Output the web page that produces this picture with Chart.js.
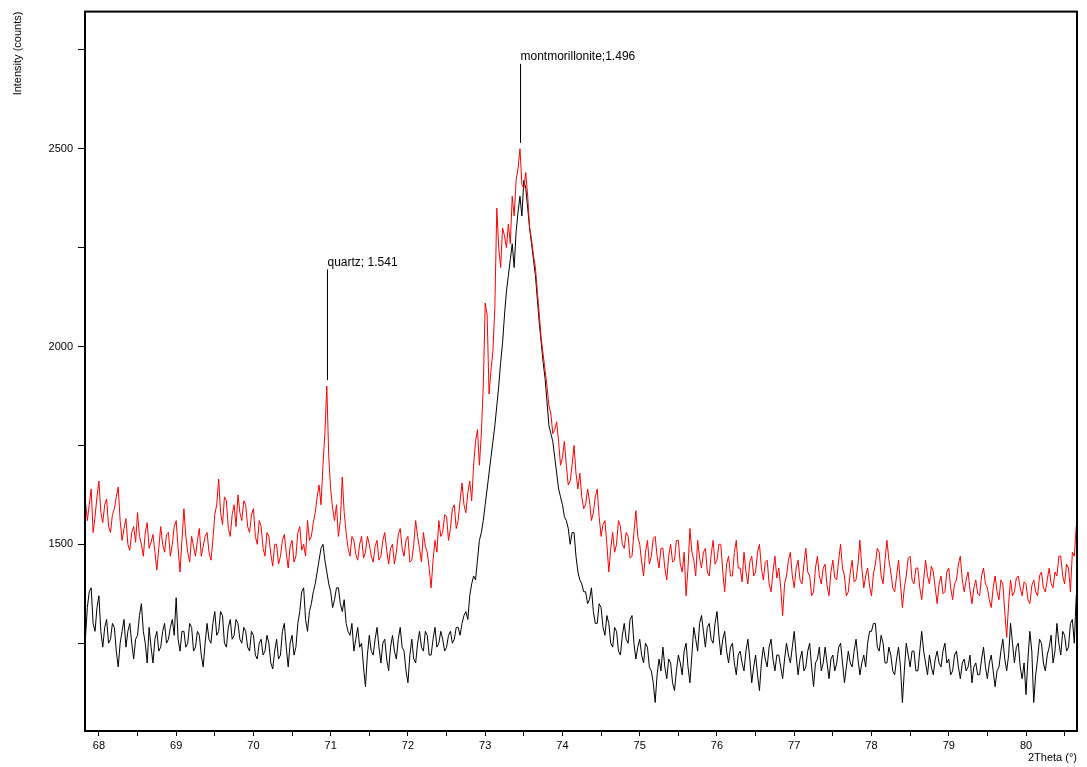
<!DOCTYPE html>
<html>
<head>
<meta charset="utf-8">
<title>XRD pattern</title>
<script src="https://cdn.jsdelivr.net/npm/chart.js@4.4.1/dist/chart.umd.min.js"></script>
<style>
  html, body { margin: 0; padding: 0; background: #fff; }
  #xrdChart { display: block; }
</style>
</head>
<body>
<canvas id="xrdChart" width="1087" height="767"></canvas>
<script>
// scan grid of the diffractometer (2theta, degrees)
const scanStart = 67.80;
const scanStep = 0.025;

// upper trace (red), counts, 20 points (0.5 deg) per row
const redCounts = [
  1700,1610,1560,1600,1640,1530,1570,1620,1660,1580,1555,1600,1615,1545,1530,1575,1590,1620,1645,1560,
  1510,1540,1565,1500,1485,1530,1545,1505,1580,1520,1500,1470,1530,1555,1490,1505,1525,1480,1435,1490,
  1545,1500,1480,1525,1530,1470,1500,1545,1560,1490,1430,1510,1590,1520,1480,1455,1520,1495,1470,1510,
  1540,1470,1495,1520,1530,1480,1460,1510,1575,1600,1665,1580,1550,1620,1610,1540,1520,1575,1600,1545,
  1625,1580,1560,1610,1600,1545,1530,1575,1590,1520,1500,1560,1545,1490,1470,1530,1520,1475,1445,1500,
  1500,1450,1470,1510,1525,1480,1440,1495,1510,1455,1470,1530,1545,1485,1500,1470,1560,1510,1520,1555,
  1580,1620,1650,1600,1700,1780,1900,1720,1640,1590,1560,1600,1520,1560,1670,1580,1530,1490,1470,1520,
  1510,1475,1460,1500,1520,1465,1480,1520,1500,1470,1455,1495,1510,1460,1470,1510,1530,1485,1450,1490,
  1500,1450,1480,1525,1540,1490,1470,1510,1520,1455,1460,1500,1560,1520,1490,1455,1530,1495,1480,1440,
  1390,1460,1510,1480,1560,1520,1530,1575,1570,1510,1540,1590,1600,1540,1560,1610,1655,1600,1580,1630,
  1660,1610,1700,1760,1790,1700,1780,1900,2110,2080,1880,1940,1990,2100,2350,2250,2200,2300,2280,2250,
  2310,2260,2380,2330,2420,2450,2500,2410,2400,2440,2380,2300,2270,2230,2200,2140,2080,2020,1980,1940,
  1900,1850,1830,1780,1790,1810,1760,1700,1720,1760,1700,1650,1660,1700,1750,1680,1640,1680,1620,1590,
  1600,1640,1610,1560,1580,1620,1640,1570,1520,1550,1560,1500,1430,1490,1530,1480,1500,1560,1545,1500,
  1490,1530,1520,1465,1470,1530,1585,1520,1500,1455,1420,1480,1510,1450,1470,1515,1520,1470,1440,1490,
  1490,1440,1410,1470,1500,1455,1460,1510,1510,1450,1430,1480,1370,1440,1540,1480,1460,1420,1510,1465,
  1440,1480,1490,1430,1420,1475,1510,1450,1460,1500,1500,1430,1380,1450,1470,1420,1420,1480,1510,1440,
  1440,1405,1480,1430,1400,1455,1470,1420,1430,1480,1500,1440,1410,1455,1460,1400,1380,1430,1470,1415,
  1440,1390,1320,1400,1420,1460,1480,1420,1390,1440,1460,1410,1400,1450,1490,1430,1420,1370,1380,1440,
  1470,1420,1400,1440,1450,1395,1370,1430,1460,1415,1410,1460,1500,1440,1420,1370,1380,1430,1460,1405,
  1410,1450,1510,1440,1390,1420,1440,1395,1370,1425,1450,1490,1480,1420,1400,1460,1510,1460,1430,1390,
  1380,1420,1460,1400,1340,1390,1420,1465,1470,1410,1400,1440,1440,1390,1360,1410,1460,1420,1400,1445,
  1430,1390,1350,1400,1420,1375,1380,1430,1440,1390,1360,1400,1410,1450,1470,1410,1380,1410,1430,1385,
  1350,1390,1410,1375,1370,1420,1440,1400,1390,1360,1340,1390,1420,1380,1360,1410,1400,1330,1265,1350,
  1410,1370,1380,1415,1420,1390,1370,1405,1400,1360,1350,1395,1410,1380,1370,1420,1430,1390,1380,1410,
  1440,1400,1390,1430,1420,1470,1470,1420,1400,1450,1440,1380,1480,1470,1545,1560
];

// lower trace (black)
const blackCounts = [
  1300,1260,1340,1380,1390,1300,1280,1340,1370,1280,1240,1290,1310,1250,1260,1300,1290,1230,1190,1250,
  1280,1310,1240,1280,1300,1250,1210,1260,1270,1320,1350,1280,1250,1200,1290,1240,1200,1260,1280,1230,
  1240,1280,1300,1250,1260,1290,1310,1270,1365,1260,1230,1280,1280,1240,1250,1300,1290,1230,1240,1280,
  1270,1220,1190,1250,1300,1260,1250,1300,1330,1270,1280,1330,1320,1250,1240,1290,1310,1260,1270,1310,
  1300,1260,1250,1290,1280,1240,1230,1280,1270,1220,1210,1250,1260,1220,1230,1270,1250,1200,1185,1230,
  1260,1210,1220,1280,1300,1240,1190,1250,1270,1220,1240,1300,1330,1380,1390,1310,1280,1330,1350,1380,
  1400,1430,1460,1490,1500,1460,1430,1400,1380,1340,1360,1390,1390,1350,1330,1360,1300,1280,1270,1300,
  1230,1260,1290,1240,1250,1190,1140,1220,1270,1230,1220,1260,1290,1240,1200,1250,1260,1210,1180,1240,
  1270,1230,1210,1260,1290,1240,1230,1180,1150,1220,1260,1210,1200,1250,1280,1240,1230,1280,1270,1220,
  1220,1260,1290,1240,1250,1280,1260,1230,1240,1270,1280,1250,1260,1290,1290,1270,1300,1320,1330,1310,
  1370,1400,1420,1410,1460,1510,1530,1560,1600,1640,1680,1720,1760,1800,1850,1900,1960,2010,2080,2140,
  2180,2220,2260,2200,2290,2340,2380,2330,2420,2400,2350,2300,2260,2220,2180,2120,2060,2010,1960,1920,
  1860,1800,1780,1760,1720,1680,1640,1620,1600,1570,1560,1540,1500,1530,1530,1470,1430,1410,1400,1380,
  1380,1350,1360,1390,1330,1300,1300,1350,1340,1290,1270,1320,1300,1250,1240,1290,1280,1230,1220,1270,
  1300,1260,1250,1310,1320,1250,1210,1240,1260,1220,1200,1250,1240,1190,1180,1150,1100,1170,1210,1180,
  1240,1190,1160,1210,1200,1150,1130,1180,1220,1200,1170,1230,1250,1190,1150,1220,1290,1260,1230,1300,
  1320,1280,1240,1290,1300,1260,1250,1300,1330,1270,1220,1260,1280,1230,1200,1240,1250,1200,1170,1220,
  1230,1200,1180,1230,1260,1210,1150,1190,1220,1170,1130,1200,1240,1210,1190,1240,1260,1210,1180,1220,
  1220,1190,1160,1210,1250,1220,1200,1240,1280,1220,1170,1210,1230,1180,1190,1230,1250,1190,1140,1200,
  1210,1240,1180,1200,1240,1200,1160,1210,1220,1180,1200,1240,1250,1200,1150,1190,1230,1200,1190,1230,
  1260,1210,1170,1200,1220,1190,1250,1280,1280,1300,1300,1240,1230,1270,1250,1200,1200,1240,1220,1180,
  1170,1210,1240,1190,1100,1180,1250,1220,1190,1230,1230,1180,1180,1230,1280,1230,1200,1170,1220,1190,
  1170,1210,1230,1200,1190,1230,1250,1200,1210,1170,1180,1220,1230,1190,1160,1200,1210,1180,1190,1220,
  1150,1190,1200,1170,1170,1210,1240,1190,1160,1200,1220,1180,1140,1180,1190,1230,1260,1210,1180,1220,
  1300,1250,1200,1240,1250,1190,1160,1200,1120,1210,1280,1230,1100,1170,1210,1260,1250,1200,1180,1220,
  1240,1270,1200,1230,1300,1250,1220,1280,1270,1230,1240,1300,1310,1250,1370,1390
];

// phase markers
const peakNames = ['quartz; 1.541', 'montmorillonite;1.496'];
const peakAngles = [70.95, 73.45];
const peakLineFrom = [1915, 2515];
const peakLineTo = [2195, 2715];

const toPoints = counts => counts.map((c, i) => ({ x: +(scanStart + i * scanStep).toFixed(3), y: c }));

const FONT = "'Liberation Sans', Arial, sans-serif";

const framePlugin = {
  id: 'frameAndPeaks',
  afterDatasetsDraw(chart) {
    const { ctx, chartArea: a, scales: { x, y } } = chart;
    ctx.save();
    ctx.strokeStyle = '#000';
    ctx.lineWidth = 2;
    ctx.strokeRect(a.left, a.top, a.right - a.left, a.bottom - a.top);

    ctx.lineWidth = 1;
    ctx.fillStyle = '#000';
    ctx.font = '12px ' + FONT;
    ctx.textAlign = 'left';
    ctx.textBaseline = 'bottom';
    peakNames.forEach((name, i) => {
      const px = Math.round(x.getPixelForValue(peakAngles[i])) + 0.5;
      const y0 = y.getPixelForValue(peakLineFrom[i]);
      const y1 = y.getPixelForValue(peakLineTo[i]);
      ctx.beginPath();
      ctx.moveTo(px, y0);
      ctx.lineTo(px, y1);
      ctx.stroke();
      ctx.fillText(name, px, y1 - 1);
    });
    ctx.restore();
  }
};

new Chart(document.getElementById('xrdChart'), {
  type: 'line',
  data: {
    datasets: [
      { label: 'red', data: toPoints(redCounts), borderColor: '#ff0000', borderWidth: 1, pointRadius: 0, tension: 0 },
      { label: 'black', data: toPoints(blackCounts), borderColor: '#000000', borderWidth: 1, pointRadius: 0, tension: 0 }
    ]
  },
  options: {
    responsive: false,
    animation: false,
    layout: { padding: { left: 0, top: 9, right: 10, bottom: 0 } },
    plugins: { legend: { display: false }, tooltip: { enabled: false } },
    scales: {
      x: {
        type: 'linear',
        min: 67.82,
        max: 80.66,
        border: { display: false },
        grid: { drawOnChartArea: false, drawTicks: true, tickLength: 5, color: '#000' },
        ticks: {
          stepSize: 0.5,
          includeBounds: false,
          autoSkip: false,
          maxRotation: 0,
          padding: 3,
          color: '#000',
          font: { family: FONT, size: 11 },
          callback: v => Number.isInteger(v) ? String(v) : ''
        },
        title: {
          display: true,
          text: '2Theta (°)',
          align: 'end',
          color: '#000',
          font: { family: FONT, size: 11 },
          padding: { top: 0, bottom: 2 }
        },
        afterFit: s => { s.height = 36; }
      },
      y: {
        type: 'linear',
        min: 1028,
        max: 2847,
        border: { display: false },
        grid: { drawOnChartArea: false, drawTicks: true, tickLength: 7, color: '#000' },
        ticks: {
          stepSize: 250,
          includeBounds: false,
          padding: 5,
          color: '#000',
          font: { family: FONT, size: 11 },
          callback: v => v % 500 === 0 ? String(v) : ''
        },
        title: {
          display: true,
          text: 'Intensity (counts)',
          align: 'end',
          color: '#000',
          font: { family: FONT, size: 11 },
          padding: { top: 11, bottom: 0 }
        },
        afterFit: s => { s.width = 85; }
      }
    }
  },
  plugins: [framePlugin]
});
</script>
</body>
</html>
